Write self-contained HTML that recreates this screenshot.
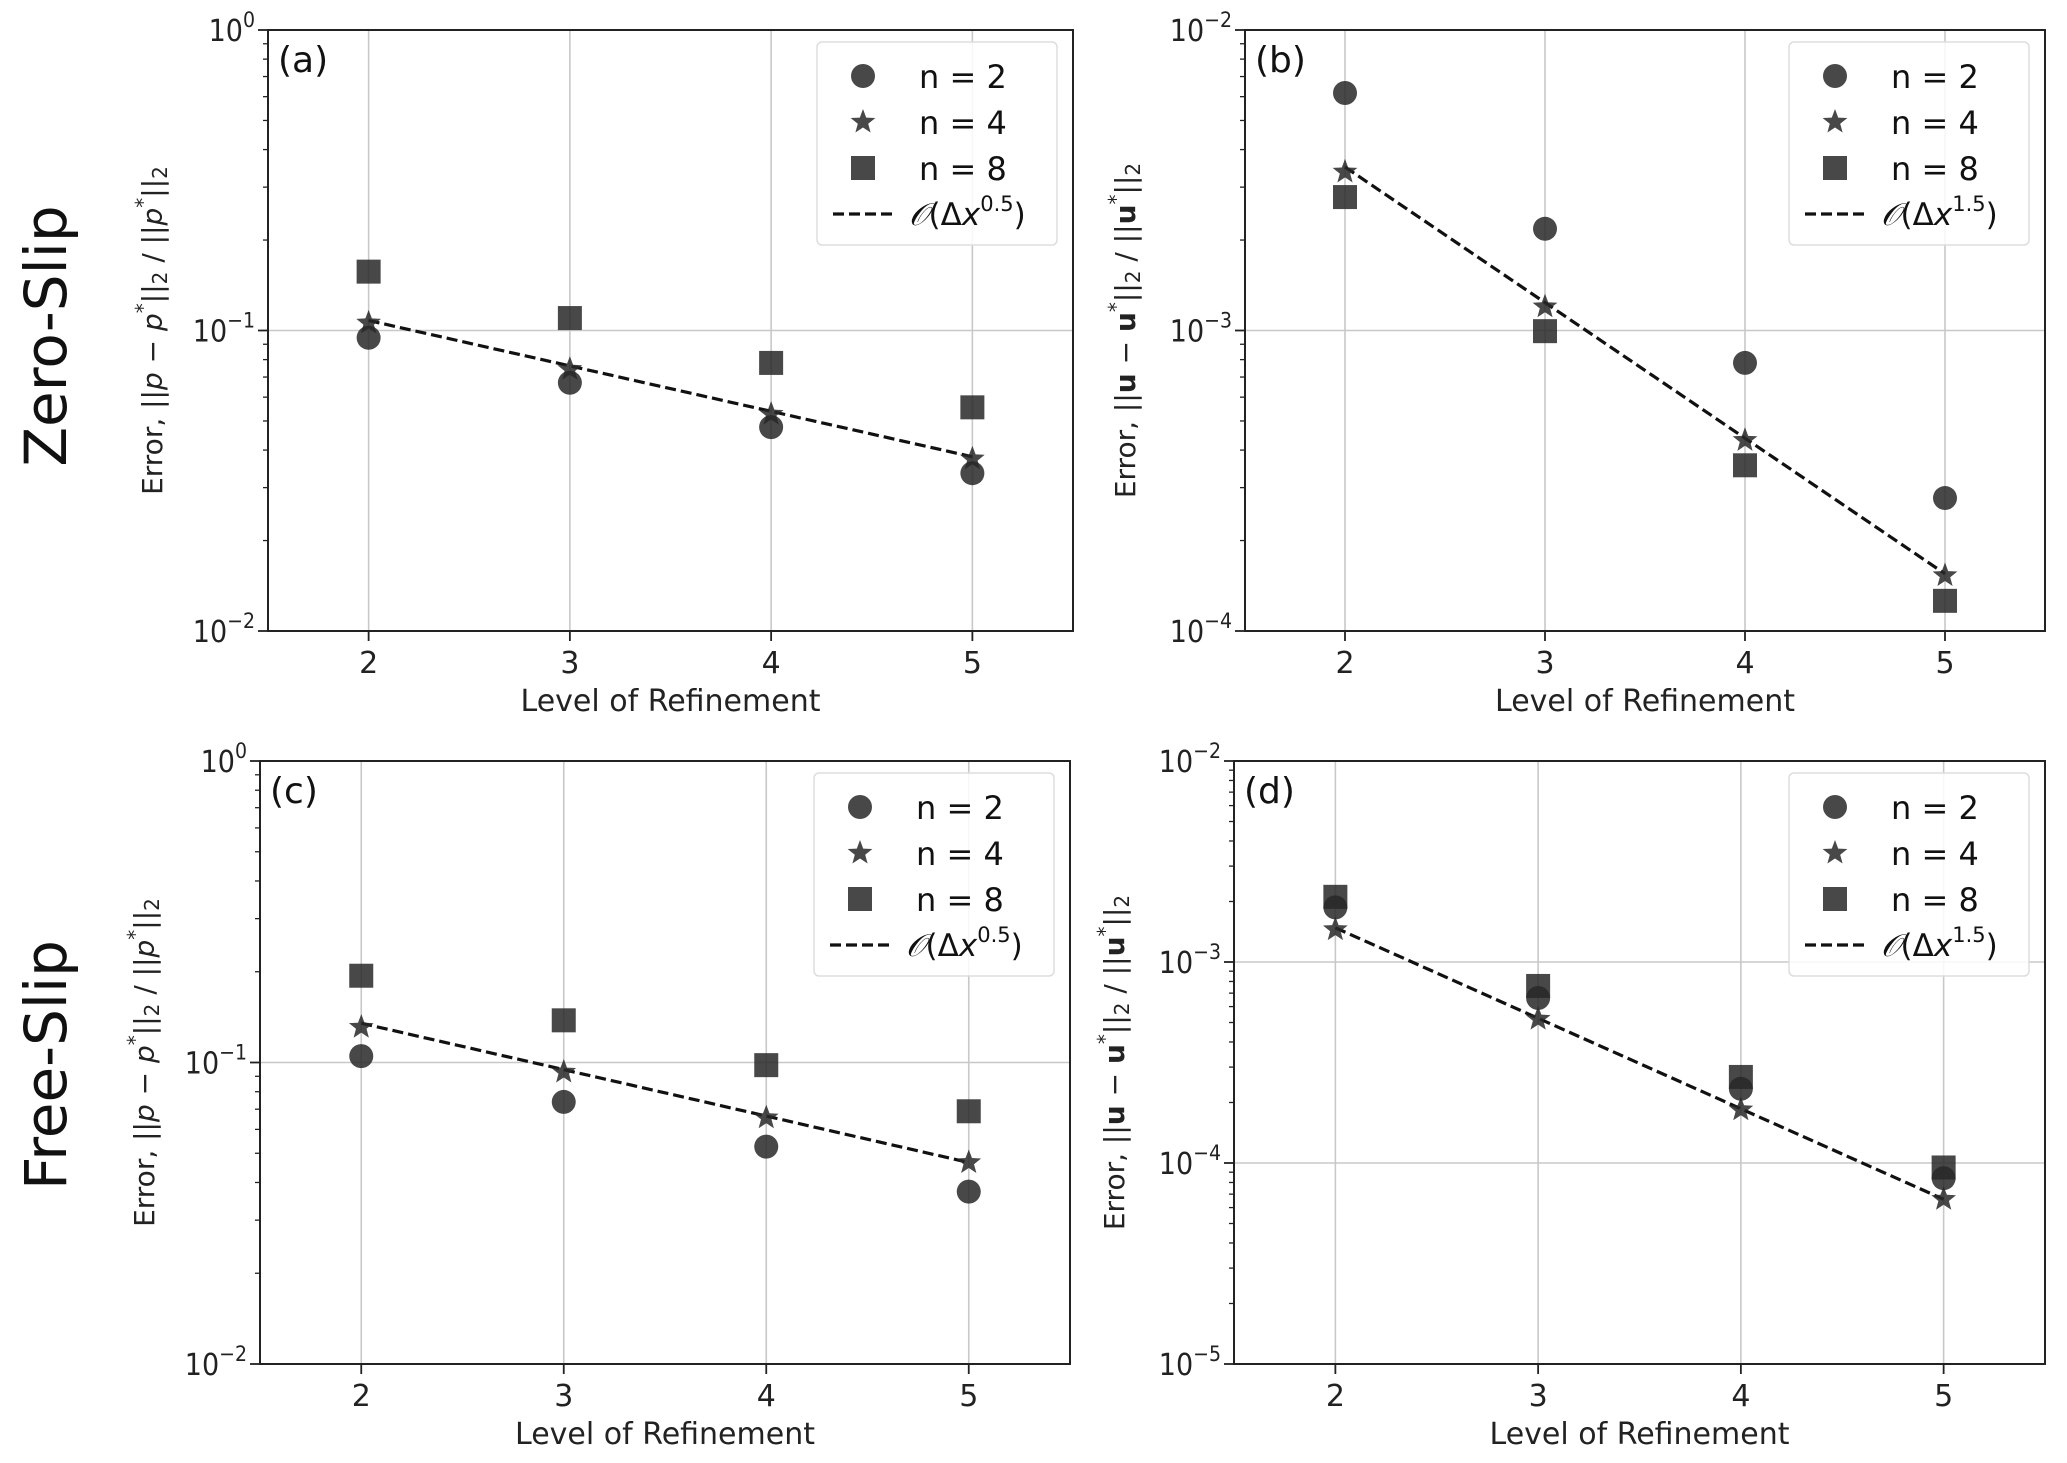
<!DOCTYPE html>
<html><head><meta charset="utf-8">
<style>
html,body{margin:0;padding:0;background:#fff;}
svg{display:block;font-family:"DejaVu Sans","Liberation Sans",sans-serif;}
</style></head>
<body>
<svg id="fig" width="2067" height="1463" viewBox="0 0 2067 1463" xmlns="http://www.w3.org/2000/svg">
<text x="0" y="0" transform="translate(66,336) rotate(-90)" font-size="58" text-anchor="middle" fill="#111">Zero-Slip</text>
<text x="0" y="0" transform="translate(66,1065) rotate(-90)" font-size="58" text-anchor="middle" fill="#111">Free-Slip</text>
</svg>
<script>
const levels = [2, 3, 4, 5];
const seriesLabels = ["n = 2", "n = 4", "n = 8"];
const aN2 = [0.0946, 0.067, 0.0477, 0.0335];
const aN4 = [0.106, 0.0743, 0.0527, 0.0374];
const aN8 = [0.157, 0.110, 0.078, 0.0555];
const aRef = [0.108, 0.038];
const bN2 = [0.00617, 0.00218, 0.00078, 0.000277];
const bN4 = [0.00337, 0.0012, 0.000431, 0.000153];
const bN8 = [0.00278, 0.000995, 0.000356, 0.000126];
const bRef = [0.0035, 0.000155];
const cN2 = [0.105, 0.074, 0.0526, 0.0373];
const cN4 = [0.131, 0.093, 0.0656, 0.0466];
const cN8 = [0.194, 0.138, 0.098, 0.0689];
const cRef = [0.135, 0.0466];
const dN2 = [0.00187, 0.000662, 0.000234, 0.000084];
const dN4 = [0.00145, 0.00052, 0.000184, 0.000066];
const dN8 = [0.00211, 0.00076, 0.000268, 0.000095];
const dRef = [0.00148, 0.000066];
const aDecades = [-2, -1, 0];
const bDecades = [-4, -3, -2];
const cDecades = [-2, -1, 0];
const dDecades = [-5, -4, -3, -2];

const NS = "http://www.w3.org/2000/svg";
const svg = document.getElementById("fig");
function mk(tag, attrs, parent) {
  const e = document.createElementNS(NS, tag);
  for (const k in attrs) e.setAttribute(k, attrs[k]);
  (parent || svg).appendChild(e);
  return e;
}
function panel(p) {
  const g = mk("g", {});
  
  
  const L = p.L, R = p.R, T = p.T, B = p.B;
  const lo = p.dec[0], hi = p.dec[p.dec.length - 1];
  const xs = v => L + (v - 1.5) / 4 * (R - L);
  const ys = v => B - (Math.log10(v) - lo) / (hi - lo) * (B - T);
  levels.forEach(v => {
    const l = mk("line", {x1: xs(v), x2: xs(v), y1: T, y2: B, stroke: "#c8c8c8", "stroke-width": 1.6}, g);
    
    
  });
  p.dec.forEach(d => {
    const y = B - (d - lo) / (hi - lo) * (B - T);
    const l = mk("line", {x1: L, x2: R, y1: y, y2: y, stroke: "#c8c8c8", "stroke-width": 1.6}, g);
    
    
    mk("line", {x1: L - 10, x2: L, y1: y, y2: y, stroke: "#222", "stroke-width": 1.8}, g);
    const t = mk("text", {x: L - 13, y: y + 11, "font-size": 30, "text-anchor": "end", fill: "#222", "font-stretch": "condensed"}, g);
    
    
    t.textContent = "10";
    const s = mk("tspan", {dy: -14, "font-size": 21}, t);
    s.textContent = String(d).replace("-", "\u2212");
    if (d < hi) for (let m = 2; m <= 9; m++) {
      const yy = B - (d + Math.log10(m) - lo) / (hi - lo) * (B - T);
      mk("line", {x1: L - 5, x2: L, y1: yy, y2: yy, stroke: "#222", "stroke-width": 1.3}, g);
    }
  });
  levels.forEach(v => {
    mk("line", {x1: xs(v), x2: xs(v), y1: B, y2: B + 10, stroke: "#222", "stroke-width": 1.8}, g);
    const t = mk("text", {x: xs(v), y: B + 42, "font-size": 30, "text-anchor": "middle", fill: "#222"}, g);
    
    
    t.textContent = v;
  });
  const rl = mk("line", {x1: xs(levels[0]), y1: ys(p.ref[0]), x2: xs(levels[3]), y2: ys(p.ref[1]), stroke: "#111", "stroke-width": 3.2, "stroke-dasharray": "11 5"}, g);
  
  
  const col = "rgba(40,40,40,0.85)";
  function circle(x, y, par) { return mk("circle", {cx: x, cy: y, r: 12, fill: col}, par); }
  function square(x, y, par) { return mk("rect", {x: x - 12, y: y - 12, width: 24, height: 24, fill: col}, par); }
  function star(x, y, par) {
    let pts = [];
    for (let i = 0; i < 10; i++) {
      const r = i % 2 ? 5.5 : 13, a = -Math.PI / 2 + i * Math.PI / 5;
      pts.push((x + r * Math.cos(a)).toFixed(1) + "," + (y + r * Math.sin(a)).toFixed(1));
    }
    return mk("polygon", {points: pts.join(" "), fill: col}, par);
  }
  const fns = [circle, star, square];
  [p.n2, p.n4, p.n8].forEach((arr, si) => {
    arr.forEach((v, i) => {
      const m = fns[si](xs(levels[i]), ys(v), g);
      
      
    });
  });
  const fr = mk("rect", {x: L, y: T, width: R - L, height: B - T, fill: "none", stroke: "#222", "stroke-width": 2}, g);
  
  
  const pl = mk("text", {x: L + 10, y: T + 42, "font-size": 36, fill: "#111"}, g);
  
  
  pl.textContent = "(" + p.id + ")";
  const lx = R - 256, ly = T + 12;
  const lg = mk("g", {}, g);
  
  
  mk("rect", {x: lx, y: ly, width: 240, height: 203, rx: 5, fill: "#fff", "fill-opacity": 0.85, stroke: "#ddd", "stroke-width": 1.5}, lg);
  seriesLabels.forEach((s, i) => {
    const yy = ly + 34 + i * 46;
    fns[i](lx + 46, yy, lg);
    const t = mk("text", {x: lx + 102, y: yy + 12, "font-size": 32, fill: "#111"}, lg);
    
    
    t.textContent = s;
  });
  const yy = ly + 34 + 3 * 46;
  mk("line", {x1: lx + 16, x2: lx + 80, y1: yy, y2: yy, stroke: "#111", "stroke-width": 3.2, "stroke-dasharray": "11 5"}, lg);
  const t = mk("text", {x: lx + 92, y: yy + 11, "font-size": 31, fill: "#111"}, lg);
  
  
  t.innerHTML = '<tspan font-style="italic">\uD835\uDCAA</tspan>(Δ<tspan font-style="italic">x</tspan><tspan dy="-14" font-size="21">' + p.order + '</tspan><tspan dy="14">)</tspan>';
  const xl = mk("text", {x: (L + R) / 2, y: B + 80, "font-size": 30, "text-anchor": "middle", fill: "#222"}, g);
  
  
  xl.textContent = "Level of Refinement";
  const yl = mk("text", {x: 0, y: 0, transform: "translate(" + p.ylx + "," + (T + B) / 2 + ") rotate(-90)", "font-size": 28, "text-anchor": "middle", fill: "#222"}, g);
  
  
  yl.innerHTML = p.ylab;
}
const pLab = 'Error, ||<tspan font-style="italic">p</tspan> − <tspan font-style="italic">p</tspan><tspan dy="-12" font-size="20">*</tspan><tspan dy="12">||</tspan><tspan font-size="20" dy="5">2</tspan><tspan dy="-5"> / ||</tspan><tspan font-style="italic">p</tspan><tspan dy="-12" font-size="20">*</tspan><tspan dy="12">||</tspan><tspan font-size="20" dy="5">2</tspan>';
const uLab = 'Error, ||<tspan font-weight="bold">u</tspan> − <tspan font-weight="bold">u</tspan><tspan dy="-12" font-size="20">*</tspan><tspan dy="12">||</tspan><tspan font-size="20" dy="5">2</tspan><tspan dy="-5"> / ||</tspan><tspan font-weight="bold">u</tspan><tspan dy="-12" font-size="20">*</tspan><tspan dy="12">||</tspan><tspan font-size="20" dy="5">2</tspan>';
panel({id: "a", L: 268, R: 1073, T: 30, B: 631, dec: aDecades, n2: aN2, n4: aN4, n8: aN8, ref: aRef, order: "0.5", ylab: pLab, ylx: 162});
panel({id: "b", L: 1245, R: 2045, T: 30, B: 631, dec: bDecades, n2: bN2, n4: bN4, n8: bN8, ref: bRef, order: "1.5", ylab: uLab, ylx: 1135});
panel({id: "c", L: 260, R: 1070, T: 761, B: 1364, dec: cDecades, n2: cN2, n4: cN4, n8: cN8, ref: cRef, order: "0.5", ylab: pLab, ylx: 154});
panel({id: "d", L: 1234, R: 2045, T: 761, B: 1364, dec: dDecades, n2: dN2, n4: dN4, n8: dN8, ref: dRef, order: "1.5", ylab: uLab, ylx: 1124});
</script>
</body></html>
